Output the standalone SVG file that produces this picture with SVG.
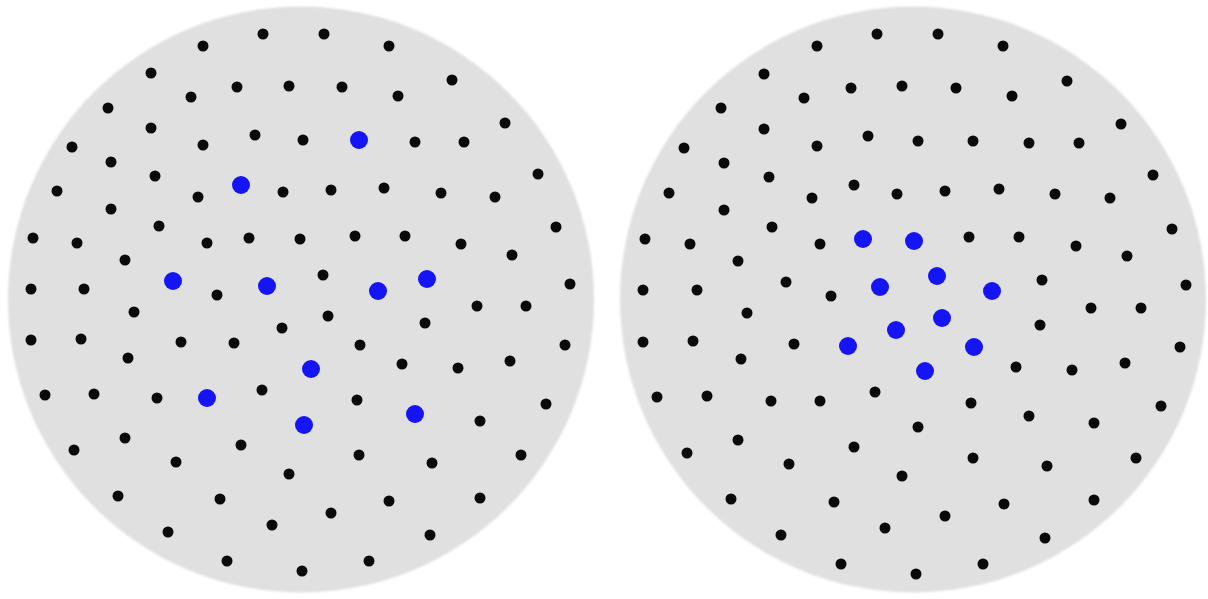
<svg xmlns="http://www.w3.org/2000/svg" width="1208" height="599" viewBox="0 0 1208 599">
  <style>
    .disk { fill: #e0e0e0; }
    .pt { fill: #0a0a0a; }
    .hl { fill: #1414f5; }
  </style>
  <defs>
    <filter id="soft" x="-5%" y="-5%" width="110%" height="110%">
      <feGaussianBlur stdDeviation="1.2"/>
    </filter>
  </defs>
  <rect width="1208" height="599" fill="#ffffff"/>

  <!-- Left disk: scattered points, ten highlighted spread across the field -->
  <g id="disk-left">
    <circle class="disk" cx="301" cy="299.5" r="293" filter="url(#soft)"/>
    <g id="points-left">
      <circle class="pt" cx="263" cy="34" r="5.5"/><circle class="pt" cx="324" cy="34" r="5.5"/><circle class="pt" cx="203" cy="46" r="5.5"/><circle class="pt" cx="389" cy="46" r="5.5"/>
      <circle class="pt" cx="151" cy="73" r="5.5"/><circle class="pt" cx="452" cy="80" r="5.5"/><circle class="pt" cx="237" cy="87" r="5.5"/><circle class="pt" cx="289" cy="86" r="5.5"/><circle class="pt" cx="342" cy="87" r="5.5"/><circle class="pt" cx="191" cy="97" r="5.5"/><circle class="pt" cx="398" cy="96" r="5.5"/>
      <circle class="pt" cx="108" cy="108" r="5.5"/><circle class="pt" cx="505" cy="123" r="5.5"/><circle class="pt" cx="151" cy="128" r="5.5"/><circle class="pt" cx="255" cy="135" r="5.5"/><circle class="pt" cx="203" cy="145" r="5.5"/><circle class="pt" cx="303" cy="140" r="5.5"/><circle class="pt" cx="415" cy="142" r="5.5"/><circle class="pt" cx="464" cy="142" r="5.5"/><circle class="pt" cx="72" cy="147" r="5.5"/>
      <circle class="pt" cx="111" cy="162" r="5.5"/><circle class="pt" cx="538" cy="174" r="5.5"/><circle class="pt" cx="155" cy="176" r="5.5"/><circle class="pt" cx="283" cy="192" r="5.5"/><circle class="pt" cx="331" cy="190" r="5.5"/><circle class="pt" cx="384" cy="188" r="5.5"/><circle class="pt" cx="441" cy="193" r="5.5"/><circle class="pt" cx="495" cy="197" r="5.5"/><circle class="pt" cx="198" cy="197" r="5.5"/><circle class="pt" cx="57" cy="191" r="5.5"/>
      <circle class="pt" cx="111" cy="209" r="5.5"/><circle class="pt" cx="159" cy="226" r="5.5"/><circle class="pt" cx="556" cy="227" r="5.5"/><circle class="pt" cx="207" cy="243" r="5.5"/><circle class="pt" cx="249" cy="238" r="5.5"/><circle class="pt" cx="300" cy="239" r="5.5"/><circle class="pt" cx="355" cy="236" r="5.5"/><circle class="pt" cx="405" cy="236" r="5.5"/><circle class="pt" cx="461" cy="244" r="5.5"/><circle class="pt" cx="512" cy="255" r="5.5"/><circle class="pt" cx="33" cy="238" r="5.5"/><circle class="pt" cx="77" cy="243" r="5.5"/><circle class="pt" cx="125" cy="260" r="5.5"/>
      <circle class="pt" cx="323" cy="275" r="5.5"/><circle class="pt" cx="217" cy="295" r="5.5"/><circle class="pt" cx="477" cy="306" r="5.5"/><circle class="pt" cx="526" cy="306" r="5.5"/><circle class="pt" cx="570" cy="284" r="5.5"/><circle class="pt" cx="31" cy="289" r="5.5"/><circle class="pt" cx="84" cy="289" r="5.5"/>
      <circle class="pt" cx="134" cy="312" r="5.5"/><circle class="pt" cx="328" cy="316" r="5.5"/><circle class="pt" cx="425" cy="323" r="5.5"/><circle class="pt" cx="282" cy="328" r="5.5"/><circle class="pt" cx="181" cy="342" r="5.5"/><circle class="pt" cx="234" cy="343" r="5.5"/><circle class="pt" cx="360" cy="345" r="5.5"/><circle class="pt" cx="565" cy="345" r="5.5"/><circle class="pt" cx="31" cy="340" r="5.5"/><circle class="pt" cx="81" cy="339" r="5.5"/><circle class="pt" cx="128" cy="358" r="5.5"/>
      <circle class="pt" cx="402" cy="364" r="5.5"/><circle class="pt" cx="458" cy="368" r="5.5"/><circle class="pt" cx="510" cy="361" r="5.5"/><circle class="pt" cx="45" cy="395" r="5.5"/><circle class="pt" cx="94" cy="394" r="5.5"/><circle class="pt" cx="157" cy="398" r="5.5"/><circle class="pt" cx="262" cy="390" r="5.5"/><circle class="pt" cx="357" cy="400" r="5.5"/><circle class="pt" cx="546" cy="404" r="5.5"/><circle class="pt" cx="480" cy="421" r="5.5"/>
      <circle class="pt" cx="125" cy="438" r="5.5"/><circle class="pt" cx="74" cy="450" r="5.5"/><circle class="pt" cx="241" cy="445" r="5.5"/><circle class="pt" cx="176" cy="462" r="5.5"/><circle class="pt" cx="359" cy="455" r="5.5"/><circle class="pt" cx="432" cy="463" r="5.5"/><circle class="pt" cx="521" cy="455" r="5.5"/><circle class="pt" cx="289" cy="474" r="5.5"/>
      <circle class="pt" cx="118" cy="496" r="5.5"/><circle class="pt" cx="220" cy="499" r="5.5"/><circle class="pt" cx="389" cy="501" r="5.5"/><circle class="pt" cx="480" cy="498" r="5.5"/><circle class="pt" cx="331" cy="513" r="5.5"/><circle class="pt" cx="272" cy="525" r="5.5"/><circle class="pt" cx="168" cy="532" r="5.5"/><circle class="pt" cx="430" cy="535" r="5.5"/>
      <circle class="pt" cx="227" cy="561" r="5.5"/><circle class="pt" cx="369" cy="561" r="5.5"/><circle class="pt" cx="302" cy="571" r="5.5"/>
    </g>
    <g id="highlight-left">
      <circle class="hl" cx="359" cy="140" r="9"/><circle class="hl" cx="241" cy="185" r="9"/><circle class="hl" cx="173" cy="281" r="9"/><circle class="hl" cx="267" cy="286" r="9"/><circle class="hl" cx="378" cy="291" r="9"/>
      <circle class="hl" cx="427" cy="279" r="9"/><circle class="hl" cx="311" cy="369" r="9"/><circle class="hl" cx="207" cy="398" r="9"/><circle class="hl" cx="415" cy="414" r="9"/><circle class="hl" cx="304" cy="425" r="9"/>
    </g>
  </g>

  <!-- Right disk: same kind of field, ten highlighted points clustered near the centre -->
  <g id="disk-right">
    <circle class="disk" cx="913" cy="299.5" r="293" filter="url(#soft)"/>
    <g id="points-right">
      <circle class="pt" cx="877" cy="34" r="5.5"/><circle class="pt" cx="938" cy="34" r="5.5"/><circle class="pt" cx="817" cy="46" r="5.5"/><circle class="pt" cx="1003" cy="46" r="5.5"/>
      <circle class="pt" cx="764" cy="74" r="5.5"/><circle class="pt" cx="851" cy="88" r="5.5"/><circle class="pt" cx="902" cy="86" r="5.5"/><circle class="pt" cx="804" cy="98" r="5.5"/><circle class="pt" cx="956" cy="88" r="5.5"/><circle class="pt" cx="1012" cy="96" r="5.5"/><circle class="pt" cx="1067" cy="81" r="5.5"/>
      <circle class="pt" cx="721" cy="108" r="5.5"/><circle class="pt" cx="764" cy="129" r="5.5"/><circle class="pt" cx="868" cy="136" r="5.5"/><circle class="pt" cx="817" cy="146" r="5.5"/><circle class="pt" cx="684" cy="148" r="5.5"/><circle class="pt" cx="918" cy="141" r="5.5"/><circle class="pt" cx="973" cy="141" r="5.5"/><circle class="pt" cx="1029" cy="143" r="5.5"/><circle class="pt" cx="1079" cy="143" r="5.5"/><circle class="pt" cx="1121" cy="124" r="5.5"/>
      <circle class="pt" cx="724" cy="163" r="5.5"/><circle class="pt" cx="769" cy="177" r="5.5"/><circle class="pt" cx="854" cy="185" r="5.5"/><circle class="pt" cx="897" cy="194" r="5.5"/><circle class="pt" cx="812" cy="198" r="5.5"/><circle class="pt" cx="669" cy="193" r="5.5"/><circle class="pt" cx="945" cy="191" r="5.5"/><circle class="pt" cx="999" cy="189" r="5.5"/><circle class="pt" cx="1055" cy="194" r="5.5"/><circle class="pt" cx="1110" cy="198" r="5.5"/><circle class="pt" cx="1153" cy="175" r="5.5"/>
      <circle class="pt" cx="724" cy="210" r="5.5"/><circle class="pt" cx="772" cy="227" r="5.5"/><circle class="pt" cx="820" cy="244" r="5.5"/><circle class="pt" cx="645" cy="239" r="5.5"/><circle class="pt" cx="690" cy="244" r="5.5"/><circle class="pt" cx="738" cy="261" r="5.5"/><circle class="pt" cx="969" cy="237" r="5.5"/><circle class="pt" cx="1019" cy="237" r="5.5"/><circle class="pt" cx="1076" cy="246" r="5.5"/><circle class="pt" cx="1127" cy="256" r="5.5"/><circle class="pt" cx="1172" cy="229" r="5.5"/>
      <circle class="pt" cx="786" cy="282" r="5.5"/><circle class="pt" cx="831" cy="296" r="5.5"/><circle class="pt" cx="643" cy="290" r="5.5"/><circle class="pt" cx="697" cy="290" r="5.5"/><circle class="pt" cx="1042" cy="280" r="5.5"/><circle class="pt" cx="1186" cy="285" r="5.5"/>
      <circle class="pt" cx="747" cy="313" r="5.5"/><circle class="pt" cx="643" cy="342" r="5.5"/><circle class="pt" cx="693" cy="341" r="5.5"/><circle class="pt" cx="741" cy="359" r="5.5"/><circle class="pt" cx="794" cy="344" r="5.5"/><circle class="pt" cx="1040" cy="325" r="5.5"/><circle class="pt" cx="1091" cy="308" r="5.5"/><circle class="pt" cx="1141" cy="308" r="5.5"/><circle class="pt" cx="1180" cy="347" r="5.5"/><circle class="pt" cx="1016" cy="367" r="5.5"/><circle class="pt" cx="1072" cy="370" r="5.5"/><circle class="pt" cx="1125" cy="363" r="5.5"/>
      <circle class="pt" cx="657" cy="397" r="5.5"/><circle class="pt" cx="707" cy="396" r="5.5"/><circle class="pt" cx="771" cy="401" r="5.5"/><circle class="pt" cx="820" cy="401" r="5.5"/><circle class="pt" cx="875" cy="392" r="5.5"/><circle class="pt" cx="971" cy="403" r="5.5"/><circle class="pt" cx="918" cy="427" r="5.5"/><circle class="pt" cx="1029" cy="416" r="5.5"/><circle class="pt" cx="1094" cy="423" r="5.5"/><circle class="pt" cx="1161" cy="406" r="5.5"/>
      <circle class="pt" cx="738" cy="440" r="5.5"/><circle class="pt" cx="687" cy="453" r="5.5"/><circle class="pt" cx="789" cy="464" r="5.5"/><circle class="pt" cx="854" cy="447" r="5.5"/><circle class="pt" cx="902" cy="476" r="5.5"/><circle class="pt" cx="973" cy="458" r="5.5"/><circle class="pt" cx="1047" cy="466" r="5.5"/><circle class="pt" cx="1136" cy="458" r="5.5"/>
      <circle class="pt" cx="731" cy="499" r="5.5"/><circle class="pt" cx="834" cy="502" r="5.5"/><circle class="pt" cx="1004" cy="504" r="5.5"/><circle class="pt" cx="1094" cy="500" r="5.5"/><circle class="pt" cx="945" cy="516" r="5.5"/><circle class="pt" cx="885" cy="528" r="5.5"/>
      <circle class="pt" cx="781" cy="535" r="5.5"/><circle class="pt" cx="1045" cy="538" r="5.5"/>
      <circle class="pt" cx="841" cy="564" r="5.5"/><circle class="pt" cx="983" cy="564" r="5.5"/><circle class="pt" cx="916" cy="574" r="5.5"/>
    </g>
    <g id="highlight-right">
      <circle class="hl" cx="863" cy="239" r="9"/><circle class="hl" cx="914" cy="241" r="9"/><circle class="hl" cx="937" cy="276" r="9"/><circle class="hl" cx="880" cy="287" r="9"/><circle class="hl" cx="992" cy="291" r="9"/>
      <circle class="hl" cx="896" cy="330" r="9"/><circle class="hl" cx="942" cy="318" r="9"/><circle class="hl" cx="974" cy="347" r="9"/><circle class="hl" cx="848" cy="346" r="9"/><circle class="hl" cx="925" cy="371" r="9"/>
    </g>
  </g>
</svg>
